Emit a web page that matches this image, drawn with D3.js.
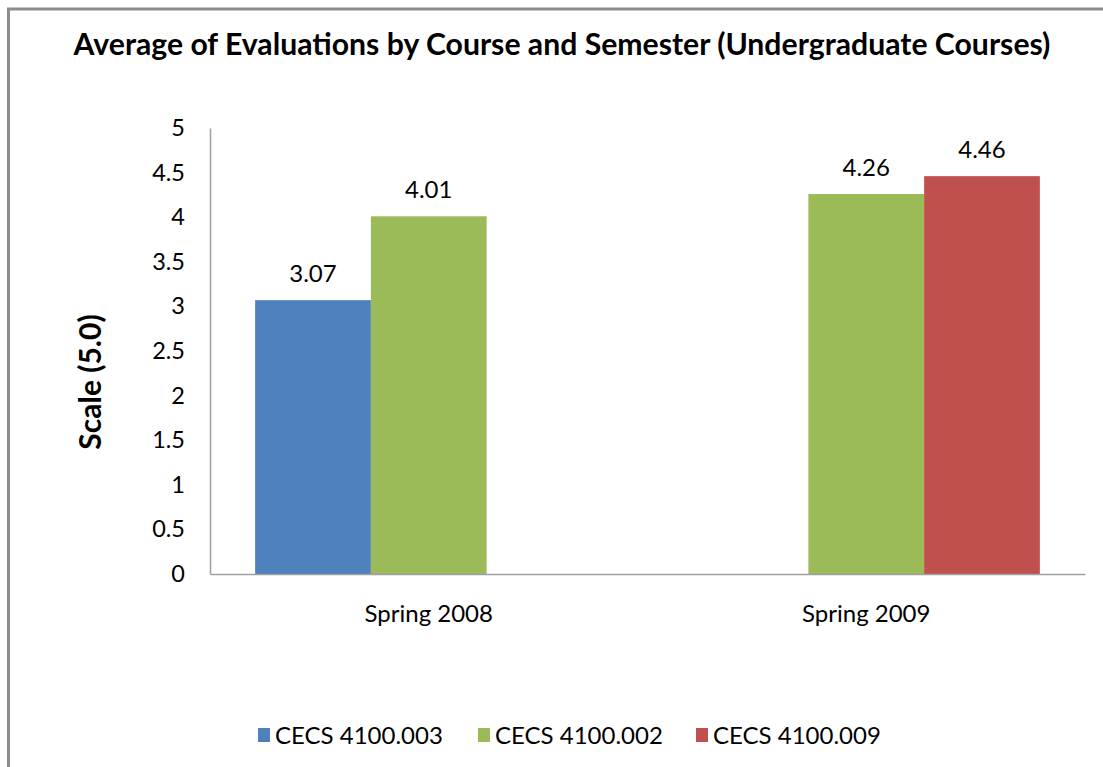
<!DOCTYPE html>
<html>
<head>
<meta charset="utf-8">
<script src="https://cdn.jsdelivr.net/npm/d3@7"></script>
<style>
  html, body { margin: 0; padding: 0; background: #fff; }
  svg { display: block; }
  text { font-family: Lato, "Open Sans", sans-serif; fill: #000; }
</style>
</head>
<body>
<svg id="chart" width="1103" height="767"></svg>
<script>
const categories = ["Spring 2008", "Spring 2009"];
const seriesNames = ["CECS 4100.003", "CECS 4100.002", "CECS 4100.009"];
const seriesColors = ["#4f81bd", "#9bbb59", "#c0504d"];
// values per series, aligned with categories (null = no bar)
const cecs003 = [3.07, null];
const cecs002 = [4.01, 4.26];
const cecs009 = [null, 4.46];
const yTicks = [0, 0.5, 1, 1.5, 2, 2.5, 3, 3.5, 4, 4.5, 5];
const titleText = "Average of Evaluations by Course and Semester (Undergraduate Courses)";
const yTitle = "Scale (5.0)";

const seriesValues = [cecs003, cecs002, cecs009];
const rows = [];
categories.forEach((c, ci) => {
  seriesNames.forEach((s, si) => {
    const v = seriesValues[si][ci];
    if (v !== null) rows.push({ cat: c, series: s, value: v, color: seriesColors[si] });
  });
});

const svg = d3.select("#chart");

// chart frame
svg.append("rect")
  .attr("x", 8.5).attr("y", 9)
  .attr("width", 1200).attr("height", 900)
  .attr("fill", "none").attr("stroke", "#8c8c8c").attr("stroke-width", 3);

const plot = { left: 210, right: 1085, top: 128, bottom: 574 };

const x0 = d3.scaleBand().domain(categories).range([plot.left, plot.right]).padding(0);
const x1 = d3.scaleBand().domain(seriesNames).range([0, x0.bandwidth()])
  .paddingInner(0).paddingOuter(0.39);
const y = d3.scaleLinear().domain([0, 5]).range([plot.bottom, plot.top]);

// title
svg.append("text")
  .attr("x", 562).attr("y", 55)
  .attr("text-anchor", "middle")
  .style("font-size", "30.2px").style("font-weight", "bold")
  .text(titleText);

// y axis title
svg.append("text")
  .attr("transform", "translate(101,382) rotate(-90)")
  .attr("text-anchor", "middle")
  .style("font-size", "30px").style("font-weight", "bold")
  .text(yTitle);

// bars
svg.append("g").selectAll("rect")
  .data(rows).join("rect")
  .attr("x", d => x0(d.cat) + x1(d.series))
  .attr("y", d => y(d.value))
  .attr("width", x1.bandwidth())
  .attr("height", d => y(0) - y(d.value))
  .attr("fill", d => d.color);

// data labels
svg.append("g").selectAll("text")
  .data(rows).join("text")
  .attr("x", d => x0(d.cat) + x1(d.series) + x1.bandwidth() / 2)
  .attr("y", d => y(d.value) - 18)
  .attr("text-anchor", "middle")
  .style("font-size", "24px")
  .text(d => d.value.toFixed(2));

// y axis
const yAxis = svg.append("g")
  .attr("transform", `translate(${plot.left},0)`)
  .call(d3.axisLeft(y).tickValues(yTicks).tickSize(0).tickPadding(25)
    .tickFormat(d => String(d)));
yAxis.select(".domain").attr("stroke", "#a0a0a0").attr("stroke-width", 1.5);
yAxis.selectAll("text").style("font-size", "23.5px").attr("fill", "#000")
  .style("font-family", "Lato, 'Open Sans', sans-serif");

// x axis
const xAxis = svg.append("g")
  .attr("transform", `translate(0,${plot.bottom})`)
  .call(d3.axisBottom(x0).tickSize(0).tickPadding(31));
xAxis.select(".domain").attr("stroke", "#a0a0a0").attr("stroke-width", 1.5);
xAxis.selectAll("text").style("font-size", "24px").attr("fill", "#000")
  .style("font-family", "Lato, 'Open Sans', sans-serif");

// legend
const legendX = [258, 478, 696];
const legend = svg.append("g");
seriesNames.forEach((s, i) => {
  legend.append("rect")
    .attr("x", legendX[i]).attr("y", 728)
    .attr("width", 12).attr("height", 14)
    .attr("fill", seriesColors[i]);
  legend.append("text")
    .attr("x", legendX[i] + 17).attr("y", 743.5)
    .style("font-size", "24px")
    .text(s);
});
</script>
</body>
</html>
